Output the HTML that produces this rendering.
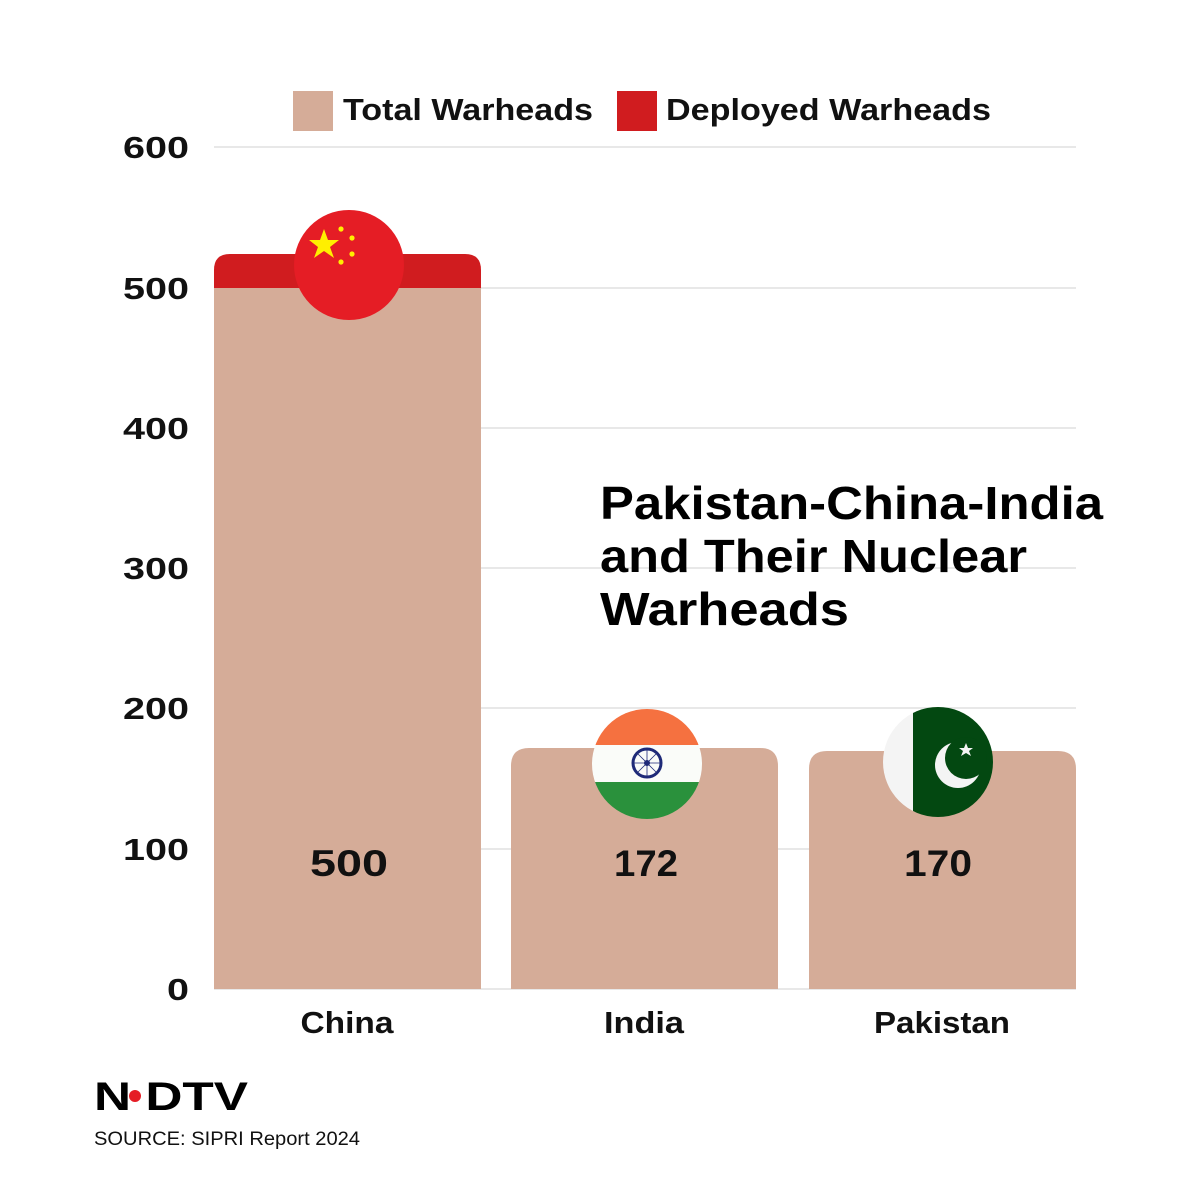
<!DOCTYPE html>
<html><head><meta charset="utf-8"><style>
html,body{margin:0;padding:0;background:#fff;}
svg{display:block;}
text{font-family:"Liberation Sans",sans-serif;}
</style></head><body>
<svg width="1200" height="1200" viewBox="0 0 1200 1200">
<defs>
<clipPath id="ci"><circle cx="647" cy="764" r="55"/></clipPath>
<clipPath id="cp"><circle cx="938" cy="762" r="55"/></clipPath>
</defs>
<rect width="1200" height="1200" fill="#fff"/>
<g stroke="#d9d9d9" stroke-width="1.2">
<line x1="214" y1="147" x2="1076" y2="147"/>
<line x1="214" y1="288" x2="1076" y2="288"/>
<line x1="214" y1="428" x2="1076" y2="428"/>
<line x1="214" y1="568" x2="1076" y2="568"/>
<line x1="214" y1="708" x2="1076" y2="708"/>
<line x1="214" y1="849" x2="1076" y2="849"/>
<line x1="214" y1="989" x2="1076" y2="989"/>
</g>
<g font-size="31" font-weight="bold" fill="#111" text-anchor="end">
<text x="189" y="158" textLength="66" lengthAdjust="spacingAndGlyphs">600</text>
<text x="189" y="299" textLength="66" lengthAdjust="spacingAndGlyphs">500</text>
<text x="189" y="439" textLength="66" lengthAdjust="spacingAndGlyphs">400</text>
<text x="189" y="579" textLength="66" lengthAdjust="spacingAndGlyphs">300</text>
<text x="189" y="719" textLength="66" lengthAdjust="spacingAndGlyphs">200</text>
<text x="189" y="860" textLength="66" lengthAdjust="spacingAndGlyphs">100</text>
<text x="189" y="1000" textLength="22" lengthAdjust="spacingAndGlyphs">0</text>
</g>
<rect x="293" y="91" width="40" height="40" fill="#d5ac98"/>
<text x="343" y="120" font-size="31" font-weight="bold" fill="#111" textLength="250" lengthAdjust="spacingAndGlyphs">Total Warheads</text>
<rect x="617" y="91" width="40" height="40" fill="#d01c1f"/>
<text x="666" y="120" font-size="31" font-weight="bold" fill="#111" textLength="325" lengthAdjust="spacingAndGlyphs">Deployed Warheads</text>
<path d="M214 989 V270 Q214 254 230 254 H465 Q481 254 481 270 V989 Z" fill="#d01c1f"/>
<rect x="214" y="288" width="267" height="701" fill="#d5ac98"/>
<path d="M511 989 V766 Q511 748 529 748 H760 Q778 748 778 766 V989 Z" fill="#d5ac98"/>
<path d="M809 989 V769 Q809 751 827 751 H1058 Q1076 751 1076 769 V989 Z" fill="#d5ac98"/>
<circle cx="349" cy="265" r="55" fill="#e51d25"/>
<g fill="#ffef00">
<polygon points="324,229 328,240 339,240 330,247 334,258 324,251 314,258 318,247 309,240 320,240"/>
<circle cx="341" cy="229" r="2.6"/><circle cx="352" cy="238" r="2.6"/><circle cx="352" cy="254" r="2.6"/><circle cx="341" cy="262" r="2.6"/>
</g>
<g clip-path="url(#ci)">
<rect x="590" y="705" width="115" height="40" fill="#f57140"/>
<rect x="590" y="745" width="115" height="37" fill="#fafcf9"/>
<rect x="590" y="782" width="115" height="40" fill="#2a913c"/>
</g>
<circle cx="647" cy="763" r="14" fill="none" stroke="#1e2a78" stroke-width="3"/>
<circle cx="647" cy="763" r="3" fill="#1e2a78"/>
<g stroke="#1e2a78" stroke-width="0.8">
<line x1="634" y1="763" x2="660" y2="763"/><line x1="647" y1="750" x2="647" y2="776"/>
<line x1="638" y1="754" x2="656" y2="772"/><line x1="656" y1="754" x2="638" y2="772"/>
</g>
<g clip-path="url(#cp)">
<rect x="880" y="705" width="35" height="115" fill="#f4f4f4"/>
<rect x="913" y="705" width="85" height="115" fill="#034811"/>
</g>
<circle cx="958" cy="765" r="23" fill="#f4f4f4"/>
<circle cx="966" cy="758" r="21" fill="#034811"/>
<polygon points="966,743 968,748 973,748 969,751 971,756 966,753 961,756 963,751 959,748 964,748" fill="#f4f4f4"/>
<g font-size="37" font-weight="bold" fill="#111" text-anchor="middle">
<text x="349" y="876" textLength="78" lengthAdjust="spacingAndGlyphs">500</text>
<text x="646" y="876" textLength="64" lengthAdjust="spacingAndGlyphs">172</text>
<text x="938" y="876" textLength="68" lengthAdjust="spacingAndGlyphs">170</text>
</g>
<g font-size="31" font-weight="bold" fill="#111" text-anchor="middle">
<text x="347" y="1033" textLength="93" lengthAdjust="spacingAndGlyphs">China</text>
<text x="644" y="1033" textLength="80" lengthAdjust="spacingAndGlyphs">India</text>
<text x="942" y="1033" textLength="136" lengthAdjust="spacingAndGlyphs">Pakistan</text>
</g>
<g font-size="46" font-weight="bold" fill="#000">
<text x="600" y="519" textLength="503" lengthAdjust="spacingAndGlyphs">Pakistan-China-India</text>
<text x="600" y="572" textLength="427" lengthAdjust="spacingAndGlyphs">and Their Nuclear</text>
<text x="600" y="625" textLength="249" lengthAdjust="spacingAndGlyphs">Warheads</text>
</g>
<text x="94" y="1110" font-size="40" font-weight="900" fill="#000" textLength="154" lengthAdjust="spacingAndGlyphs">N DTV</text>
<circle cx="135" cy="1096" r="6" fill="#e51d25"/>
<text x="94" y="1145" font-size="19" fill="#111" textLength="266" lengthAdjust="spacingAndGlyphs">SOURCE: SIPRI Report 2024</text>
</svg>
</body></html>
